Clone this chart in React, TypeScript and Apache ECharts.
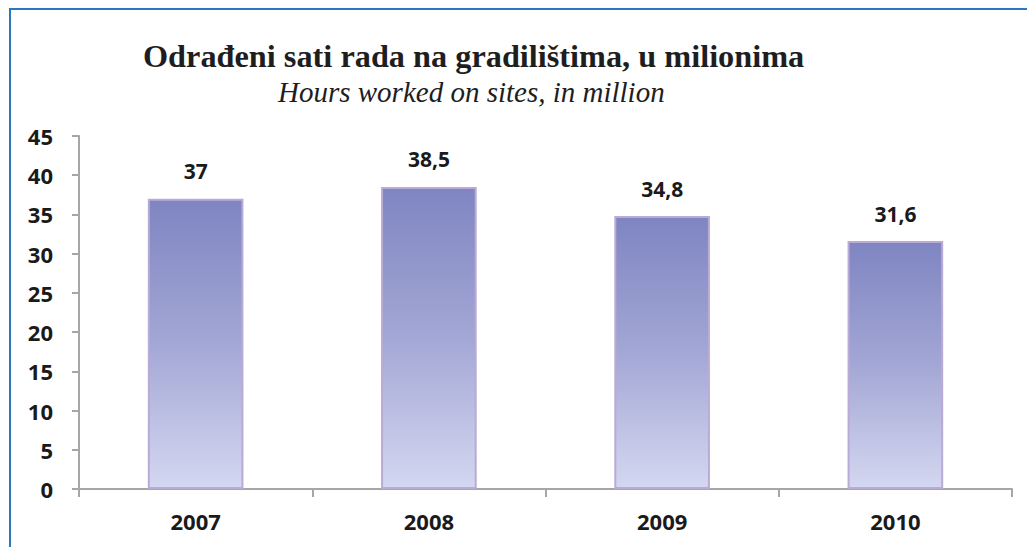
import React, { useEffect, useRef } from "react";
import * as echarts from "echarts";

const categories = ["2007", "2008", "2009", "2010"];
const hoursWorked = [37, 38.5, 34.8, 31.6];
const yTicks = { min: 0, max: 45, interval: 5 };
const titleText = "Odrađeni sati rada na gradilištima, u milionima";
const subtitleText = "Hours worked on sites, in million";

export default function App() {
  const ref = useRef<HTMLDivElement>(null);
  useEffect(() => {
    if (!ref.current) return;
    const chart = echarts.init(ref.current, null, { renderer: "svg" });
    const labelFont = {
      fontFamily: "Open Sans",
      fontWeight: "bold" as const,
      fontSize: 22,
      color: "#1a1a1a",
    };
    chart.setOption({
      animation: false,
      backgroundColor: "#ffffff",
      grid: { left: 79, right: 15, top: 136, bottom: 58, containLabel: false },
      graphic: [
        {
          type: "rect",
          shape: { x: 10, y: 9, width: 1100, height: 700 },
          style: { fill: "none", stroke: "#2a78c2", lineWidth: 2 },
          silent: true,
        },
        {
          type: "text",
          x: 143,
          y: 56,
          style: {
            text: titleText,
            fontFamily: "Liberation Serif",
            fontWeight: "bold",
            fontSize: 32.3,
            fill: "#1e1e1e",
            align: "left",
            verticalAlign: "middle",
          },
        },
        {
          type: "text",
          x: 278,
          y: 92,
          style: {
            text: subtitleText,
            fontFamily: "Liberation Serif",
            fontStyle: "italic",
            fontSize: 29,
            fill: "#1e1e1e",
            align: "left",
            verticalAlign: "middle",
          },
        },
      ],
      xAxis: {
        type: "category",
        data: categories,
        boundaryGap: true,
        axisLine: { show: true, lineStyle: { color: "#a6a6a6", width: 2 } },
        axisTick: { show: true, length: 8, alignWithLabel: false, lineStyle: { color: "#a6a6a6", width: 2 } },
        axisLabel: { ...labelFont, margin: 21 },
        splitLine: { show: false },
      },
      yAxis: {
        type: "value",
        min: yTicks.min,
        max: yTicks.max,
        interval: yTicks.interval,
        axisLine: { show: true, lineStyle: { color: "#a6a6a6", width: 2 } },
        axisTick: { show: true, length: 7, lineStyle: { color: "#a6a6a6", width: 2 } },
        axisLabel: { ...labelFont, margin: 26 },
        splitLine: { show: false },
      },
      series: [
        {
          type: "bar",
          data: hoursWorked,
          barWidth: "41%",
          itemStyle: {
            color: new echarts.graphic.LinearGradient(0, 0, 0, 1, [
              { offset: 0, color: "#7f85c1" },
              { offset: 0.5, color: "#a3a7d5" },
              { offset: 1, color: "#d4d7f0" },
            ]),
            borderColor: "#b9aad6",
            borderWidth: 2,
          },
          label: {
            show: true,
            position: "top",
            distance: 17,
            ...labelFont,
            fontSize: 21,
            formatter: (p: any) => String(p.value).replace(".", ","),
          },
        },
      ],
    });
    return () => chart.dispose();
  }, []);
  return (
    <div
      ref={ref}
      style={{ position: "fixed", left: 0, top: 0, width: 1027, height: 547 }}
    />
  );
}
